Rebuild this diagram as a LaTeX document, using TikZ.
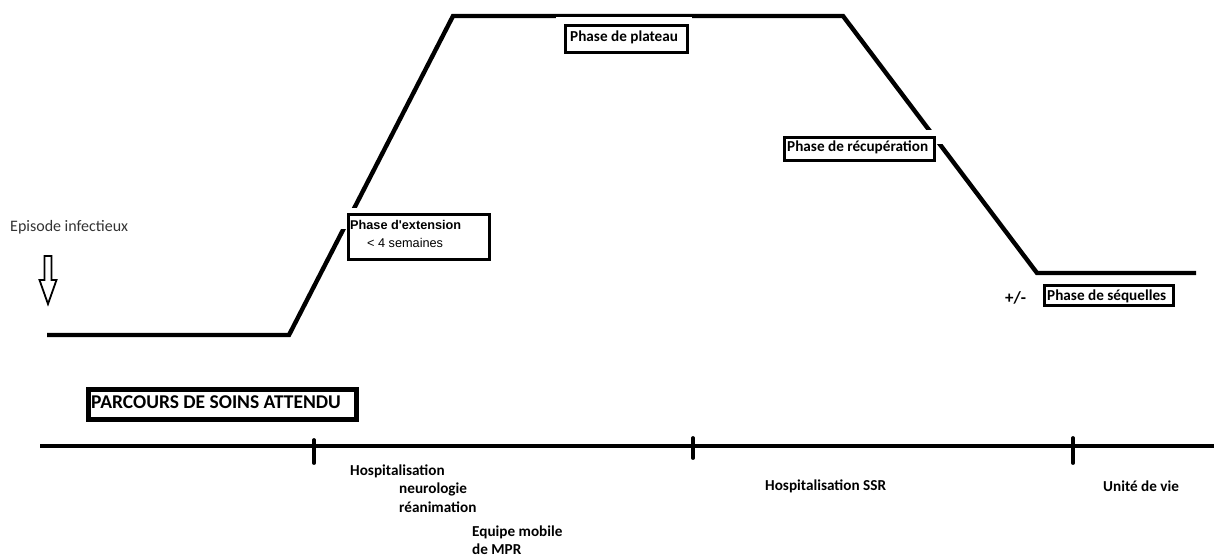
\documentclass[tikz,border=0pt]{standalone}
\usepackage{fontspec}
\setmainfont{Carlito}
\newfontfamily\arialf{Liberation Sans}
\begin{document}
\begin{tikzpicture}[x=1pt,y=-1pt,
  curve/.style={line width=4.4pt,line join=miter},
  phasebox/.style={draw,line width=3.2pt,fill=white,inner sep=0pt},
  cover/.style={fill=white,draw=none,inner sep=0pt,anchor=north west},
  lbl/.style={anchor=west,inner sep=0pt,font=\fontsize{15.2}{17}\selectfont\bfseries},
  axis/.style={line width=4.4pt},
  tick/.style={line width=3.8pt,line cap=round}]
\useasboundingbox (0,0) rectangle (1214,556);
% phase curve
\coordinate (c0) at (47,335);
\coordinate (c1) at (289,335);
\coordinate (c2) at (453,16);
\coordinate (c3) at (843,16);
\coordinate (c4) at (1037,273);
\coordinate (c5) at (1196,273);
\draw[curve] (c0) -- (c1) -- (c2) -- (c3) -- (c4) -- (c5);
% white covers where the boxes hide the curve
\node[cover,minimum width=22pt,minimum height=21pt] (extw) at (340,207.5) {};
\node[cover,minimum width=136pt,minimum height=8pt] (plw) at (556,17) {};
\node[cover,minimum width=20pt,minimum height=14pt] (recw) at (926,130) {};
% phase boxes
\node[phasebox,minimum width=141pt,minimum height=45pt,anchor=north west] (ext) at (346.5,213) {};
\node[anchor=west,inner sep=0pt,font=\arialf\fontsize{12.7}{14}\selectfont\bfseries] (extt) at (350,225) {Phase d'extension};
\node[anchor=west,inner sep=0pt,font=\arialf\fontsize{12.7}{14}\selectfont] (exts) at (367,243) {< 4 semaines};
\node[phasebox,minimum width=122pt,minimum height=27pt,anchor=north west] (pl) at (563.5,24) {};
\node[lbl] (plt) at (570,37) {Phase de plateau};
\node[phasebox,minimum width=150pt,minimum height=23pt,anchor=north west] (rec) at (783,136) {};
\node[lbl] (rect) at (787,147) {Phase de récupération};
\node[phasebox,minimum width=129pt,minimum height=20pt,anchor=north west] (seq) at (1043,284) {};
\node[lbl] (seqt) at (1047,296.5) {Phase de séquelles};
\node[anchor=west,inner sep=0pt,font=\fontsize{17}{19}\selectfont\bfseries] (pm) at (1005,298) {+/-};
% episode
\node[anchor=west,inner sep=0pt,font=\fontsize{16}{18}\selectfont,text=black!80] (ep) at (10,227) {Episode infectieux};
\draw[line width=1.8pt,fill=white] (44.5,256) -- (51.5,256) -- (51.5,280) -- (56.5,280) -- (48,304) -- (39.5,280) -- (44.5,280) -- cycle;
% parcours
\node[draw,line width=5.4pt,minimum width=268pt,minimum height=30pt,anchor=north west,inner sep=0pt] (parc) at (86,387) {};
\node[anchor=west,inner sep=0pt,font=\fontsize{19.5}{21}\selectfont\bfseries] (parct) at (91,402) {PARCOURS DE SOINS ATTENDU};
% timeline
\coordinate (t0) at (40,446);
\coordinate (t1) at (1214,446);
\draw[axis] (t0) -- (t1);
\coordinate (k1a) at (314,440); \coordinate (k1b) at (314,463);
\coordinate (k2a) at (693,438); \coordinate (k2b) at (693,458);
\coordinate (k3a) at (1073,438); \coordinate (k3b) at (1073,463);
\draw[tick] (k1a) -- (k1b);
\draw[tick] (k2a) -- (k2b);
\draw[tick] (k3a) -- (k3b);
% labels
\node[lbl] (h1) at (350,471) {Hospitalisation};
\node[lbl] (h2) at (399,489) {neurologie};
\node[lbl] (h3) at (399,507) {réanimation};
\node[lbl] (h4) at (472,532) {Equipe mobile};
\node[lbl] (h5) at (472,549) {de MPR};
\node[lbl] (ssr) at (765,486) {Hospitalisation SSR};
\node[lbl] (uv) at (1103,486) {Unité de vie};
\end{tikzpicture}
\end{document}
